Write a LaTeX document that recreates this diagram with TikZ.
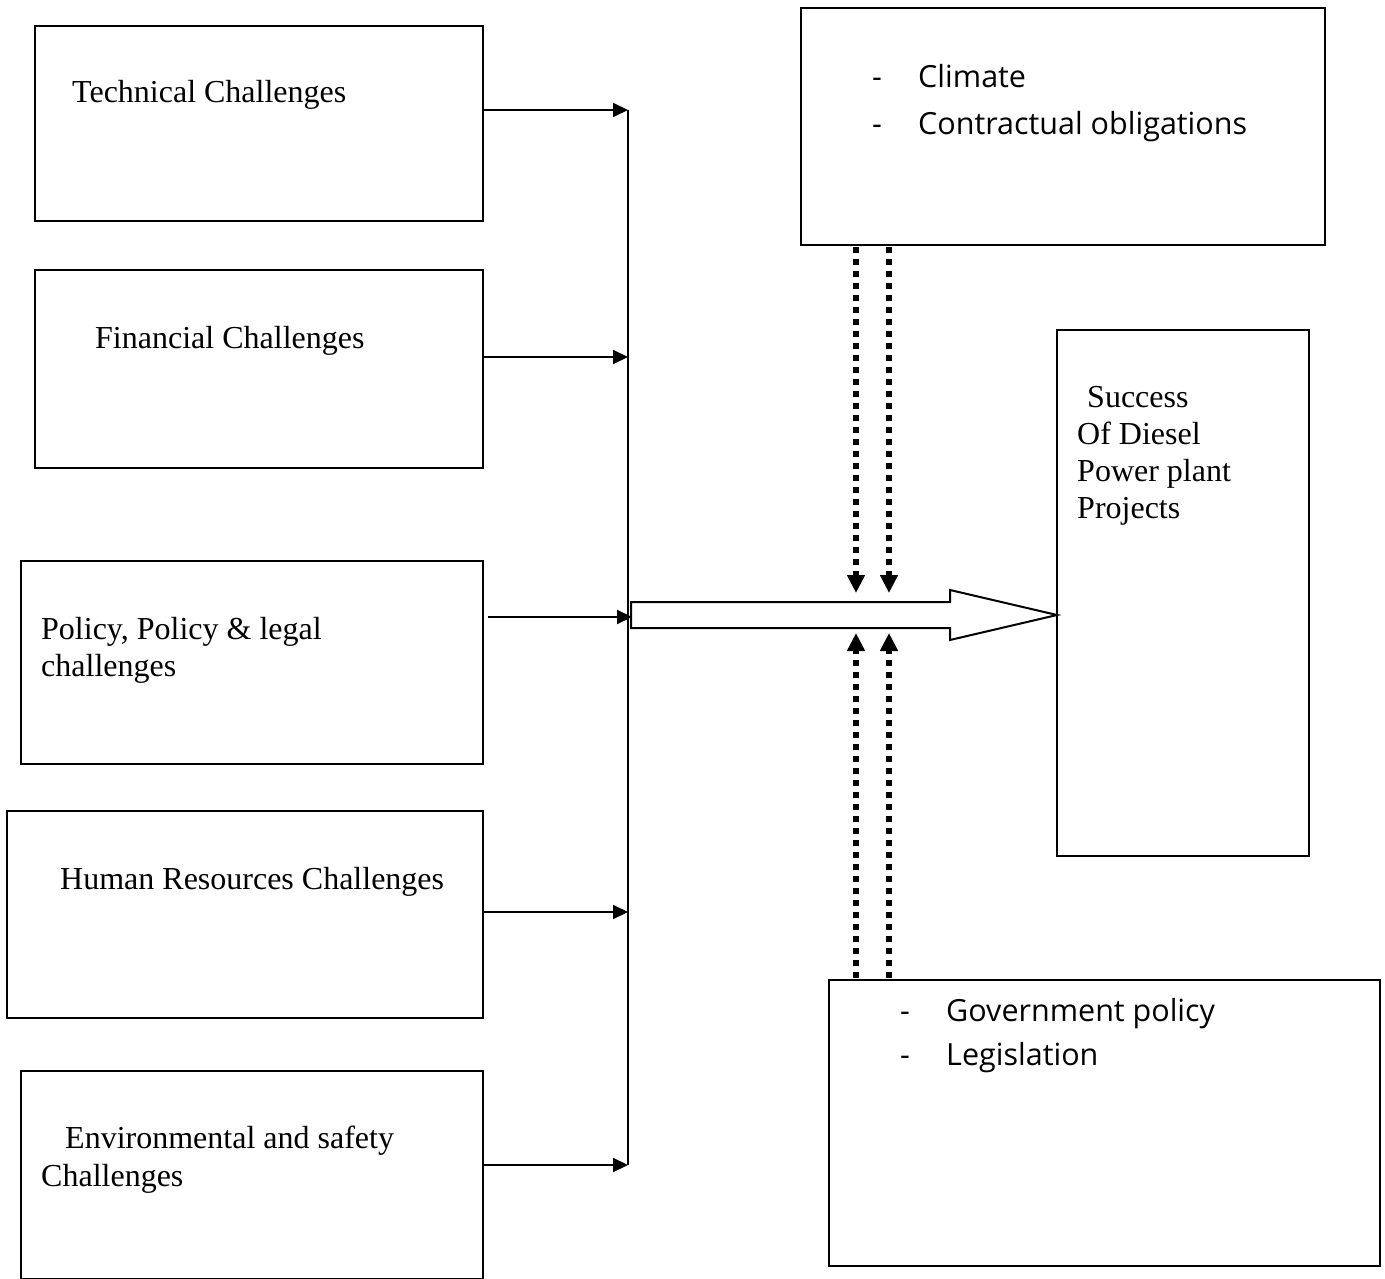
\documentclass[tikz,border=0pt]{standalone}
\usepackage{fontspec}
\setmainfont{Liberation Serif}
\newfontfamily\sansf{Open Sans}
\usetikzlibrary{arrows.meta}
\begin{document}
\begin{tikzpicture}[x=1pt,y=-1pt,
  box/.style={draw,line width=2pt,inner sep=0pt},
  serif/.style={font=\fontsize{32}{37}\selectfont,anchor=base west,inner sep=0pt},
  sanst/.style={font=\sansf\fontsize{30.5}{47}\selectfont,anchor=base west,inner sep=0pt},
  feed/.style={line width=2pt,-{Triangle[length=15pt,width=14pt]}},
  dots/.style={line width=6pt,dash pattern=on 6pt off 6pt,-{Triangle[length=18pt,width=17pt]}},
  ]
\useasboundingbox (0,0) rectangle (1385,1279);
% left boxes
\draw[box] (35,26) rectangle (483,221); \coordinate (tech) at (483,110);
\draw[box] (35,270) rectangle (483,468); \coordinate (fin) at (483,357);
\draw[box] (21,561) rectangle (483,764); \coordinate (pol) at (488,617);
\draw[box] (7,811) rectangle (483,1018); \coordinate (hum) at (483,912);
\draw[box] (21,1071) rectangle (483,1279); \coordinate (env) at (483,1165);
\node[serif] (t1) at (72,103) {Technical Challenges};
\node[serif] (t2) at (95,348) {Financial Challenges};
\node[serif] (t3a) at (41,639) {Policy, Policy \& legal};
\node[serif] (t3b) at (41,676) {challenges};
\node[serif] (t4) at (60,889) {Human Resources Challenges};
\node[serif] (t5) at (65,1148) {Environmental and safety};
\node[serif] (t6) at (41,1186) {Challenges};
% bus
\coordinate (b1) at (628,110);
\coordinate (b2) at (628,357);
\coordinate (b3) at (632,617);
\coordinate (b4) at (628,912);
\coordinate (b5) at (628,1165);
\draw[line width=2pt] (b1) -- (b5);
\draw[feed] (tech) -- (b1);
\draw[feed] (fin) -- (b2);
\draw[feed] (pol) -- (b3);
\draw[feed] (hum) -- (b4);
\draw[feed] (env) -- (b5);
% hollow arrow
\draw[line width=2pt,fill=white] (631,602) -- (950,602) -- (950,590) -- (1057,615) -- (950,640) -- (950,628) -- (631,628) -- cycle;
% right boxes
\draw[box] (801,8) rectangle (1325,245);
\node[sanst] (c0) at (872,88) {-};
\node[sanst] (c1) at (918,88) {Climate};
\node[sanst] (c2) at (872,135) {-};
\node[sanst] (c3) at (918,135) {Contractual obligations};
\draw[box] (1057,330) rectangle (1309,856);
\node[serif] (s1) at (1087,407) {Success};
\node[serif] (s2) at (1077,444) {Of Diesel};
\node[serif] (s3) at (1077,481) {Power plant};
\node[serif] (s4) at (1077,518) {Projects};
\draw[box] (829,980) rectangle (1380,1266);
\node[sanst] (g0) at (900,1021) {-};
\node[sanst] (g1) at (946,1021) {Government policy};
\node[sanst] (g2) at (900,1065) {-};
\node[sanst] (g3) at (946,1065) {Legislation};
% dotted arrows
\coordinate (d1s) at (856,247); \coordinate (d1e) at (856,593);
\coordinate (d2s) at (889,247); \coordinate (d2e) at (889,593);
\coordinate (d3s) at (856,978); \coordinate (d3e) at (856,633);
\coordinate (d4s) at (889,978); \coordinate (d4e) at (889,633);
\draw[dots] (d1s) -- (d1e);
\draw[dots] (d2s) -- (d2e);
\draw[dots] (d3s) -- (d3e);
\draw[dots] (d4s) -- (d4e);
\end{tikzpicture}
\end{document}
